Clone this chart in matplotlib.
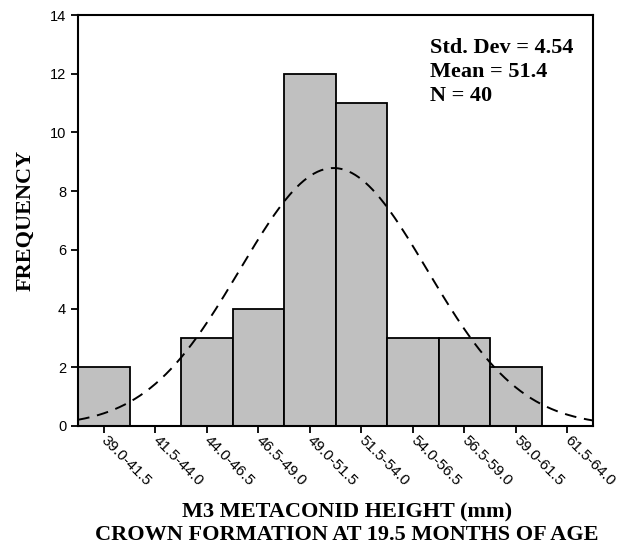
import numpy as np
import matplotlib
matplotlib.use('Agg')
import matplotlib.pyplot as plt
from matplotlib.transforms import ScaledTranslation

# bin edges and counts
edges = [39.0, 41.5, 44.0, 46.5, 49.0, 51.5, 54.0, 56.5, 59.0, 61.5, 64.0]
counts = [2, 0, 3, 4, 12, 11, 3, 3, 2, 0]
bin_labels = ['39.0-41.5', '41.5-44.0', '44.0-46.5', '46.5-49.0', '49.0-51.5',
              '51.5-54.0', '54.0-56.5', '56.5-59.0', '59.0-61.5', '61.5-64.0']
std_dev = 4.54
mean = 51.4
n = 40

serif = ['Liberation Serif', 'DejaVu Serif']
sans = ['Liberation Sans', 'DejaVu Sans']

fig = plt.figure(figsize=(6.27, 5.52), dpi=100)
ax = fig.add_axes([0.1244, 0.2283, 0.8214, 0.7445])

width = edges[1] - edges[0]
centers = [(a + b) / 2 for a, b in zip(edges[:-1], edges[1:])]
ax.bar(edges[:-1], counts, width=width, align='edge',
       color='#c0c0c0', edgecolor='black', linewidth=1.3, zorder=2)

# fitted normal curve
x = np.linspace(edges[0], edges[-1], 300)
y = n * width / (std_dev * np.sqrt(2 * np.pi)) * np.exp(-0.5 * ((x - mean) / std_dev) ** 2)
ax.plot(x, y, color='black', linewidth=1.4, linestyle=(0, (6, 4)), zorder=3)

ax.set_xlim(edges[0], edges[-1])
ax.set_ylim(0, 14)
ax.set_yticks(range(0, 15, 2))
ax.set_xticks(centers)
ax.set_xticklabels(bin_labels, rotation=-45, ha='left', va='center',
                   rotation_mode='anchor', family=sans, fontsize=11)
shift = ScaledTranslation(0, -4 / 72, fig.dpi_scale_trans)
for lab in ax.get_xticklabels():
    lab.set_transform(lab.get_transform() + shift)
for lab in ax.get_yticklabels():
    lab.set_family(sans)
    lab.set_fontsize(10.5)
ax.tick_params(direction='out', length=5, width=1.3)
for s in ax.spines.values():
    s.set_linewidth(1.5)

ax.set_ylabel('FREQUENCY', family=serif, fontweight='bold', fontsize=16, labelpad=10)
ax.set_xlabel('M3 METACONID HEIGHT (mm)\nCROWN FORMATION AT 19.5 MONTHS OF AGE',
              family=serif, fontweight='bold', fontsize=16, linespacing=1.15)
ax.xaxis.set_label_coords(0.522, -0.187)

ax.text(0.683, 0.944, 'Std. Dev = %.2f\nMean = %.1f\nN = %d' % (std_dev, mean, n),
        transform=ax.transAxes, ha='left', va='top', family=serif,
        fontweight='bold', fontsize=16, linespacing=1.28)

fig.savefig('out.png', dpi=100)
